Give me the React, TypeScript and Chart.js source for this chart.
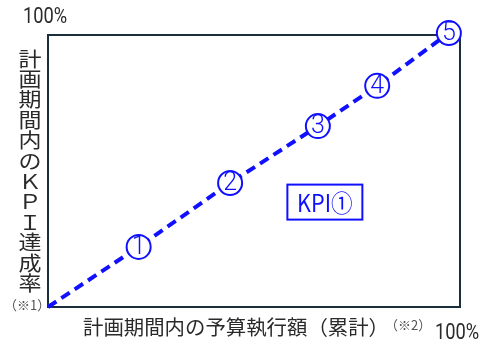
import React, { useEffect, useRef } from "react";
import { Chart, registerables } from "chart.js";

Chart.register(...registerables);

// Data
const pointLabels = ["", "1", "2", "3", "4", "5"];
const budgetExecution = [0, 22, 44.2, 65.5, 79.9, 97.3]; // x, % of budget executed (cumulative)
const kpiAchievement = [0, 22.1, 45.6, 66.5, 81.3, 100.7]; // y, % KPI achievement
const seriesName = "KPI①";
const yTitleChars = ["計", "画", "期", "間", "内", "の", "Ｋ", "Ｐ", "Ｉ", "達", "成", "率"];
const xTitle = "計画期間内の予算執行額（累計）";
const xNote = "（※2）";
const yNote = "（※1）";
const maxTickLabel = "100%";

const BLUE = "#1010ff";
const FRAME = "#1b2e3c";
const TEXT = "#2a2a2a";
const CJK = '"Noto Sans CJK JP", "Noto Sans", sans-serif';

const decorPlugin = {
  id: "decor",
  beforeDatasetsDraw(chart: any) {
    const { ctx, chartArea } = chart;
    const { left, top, right, bottom } = chartArea;
    ctx.save();
    ctx.strokeStyle = FRAME;
    ctx.lineWidth = 2;
    ctx.strokeRect(left, top, right - left, bottom - top);
    ctx.restore();
  },
  afterDatasetsDraw(chart: any) {
    const { ctx, chartArea } = chart;
    const { left, top, right, bottom } = chartArea;
    ctx.save();
    // numbers in circles
    const meta = chart.getDatasetMeta(0);
    ctx.fillStyle = BLUE;
    ctx.font = "300 25px Roboto, sans-serif";
    ctx.textAlign = "center";
    ctx.textBaseline = "middle";
    meta.data.forEach((el: any, i: number) => {
      if (!pointLabels[i]) return;
      ctx.fillText(pointLabels[i], el.x, el.y + 1);
    });

    // series label box
    const bx = left + (right - left) * 0.581;
    const by = top + (bottom - top) * 0.55;
    ctx.strokeStyle = BLUE;
    ctx.lineWidth = 2;
    ctx.strokeRect(bx, by, 75, 35);
    ctx.font = `24px ${CJK}`;
    ctx.fillStyle = BLUE;
    ctx.save();
    ctx.translate(bx + 37.5, by + 18);
    ctx.scale(0.9, 1);
    ctx.fillText(seriesName, 0, 0);
    ctx.restore();

    // 100% labels
    ctx.fillStyle = TEXT;
    ctx.textAlign = "left";
    ctx.textBaseline = "alphabetic";
    ctx.font = "22px Roboto, sans-serif";
    ctx.save();
    ctx.translate(left - 25, top - 12);
    ctx.scale(0.83, 1);
    ctx.fillText(maxTickLabel, 0, 0);
    ctx.restore();
    ctx.save();
    ctx.translate(right - 25, bottom + 32);
    ctx.scale(0.83, 1);
    ctx.fillText(maxTickLabel, 0, 0);
    ctx.restore();

    // x title
    ctx.textBaseline = "middle";
    ctx.font = `20px ${CJK}`;
    ctx.fillStyle = TEXT;
    ctx.save();
    ctx.translate(left + 35, bottom + 20);
    ctx.scale(1.02, 1);
    ctx.fillText(xTitle, 0, 0);
    ctx.restore();
    const w = ctx.measureText(xTitle).width * 1.02;
    ctx.font = `13px ${CJK}`;
    ctx.fillStyle = "#555";
    ctx.fillText(xNote, left + 35 + w - 4, bottom + 18);

    // y title (vertical)
    ctx.font = `20px ${CJK}`;
    ctx.fillStyle = TEXT;
    ctx.textAlign = "center";
    yTitleChars.forEach((c, i) => {
      ctx.save();
      ctx.translate(left - 18, top + 24 + i * 20.4);
      ctx.scale(1.15, 1);
      ctx.fillText(c, 0, 0);
      ctx.restore();
    });
    ctx.font = `13px ${CJK}`;
    ctx.fillStyle = "#555";
    ctx.textAlign = "left";
    ctx.fillText(yNote, left - 44, bottom - 2);
    ctx.restore();
  },
};

export default function App() {
  const ref = useRef<HTMLCanvasElement>(null);
  useEffect(() => {
    if (!ref.current) return;
    const chart = new Chart(ref.current, {
      type: "line",
      data: {
        datasets: [
          {
            label: seriesName,
            data: budgetExecution.map((x, i) => ({ x, y: kpiAchievement[i] })),
            borderColor: BLUE,
            borderWidth: 4,
            borderDash: [10, 6],
            pointRadius: (c: any) => (c.dataIndex === 0 ? 0 : 12),
            pointBorderWidth: 2,
            pointBorderColor: BLUE,
            pointBackgroundColor: "#ffffff",
            clip: false as any,
            tension: 0,
          },
        ],
      },
      options: {
        responsive: false,
        animation: false,
        devicePixelRatio: 1,
        layout: { padding: { left: 48, top: 35, right: 28, bottom: 37 } },
        scales: {
          x: { type: "linear", min: 0, max: 100, display: false },
          y: { type: "linear", min: 0, max: 100, display: false },
        },
        plugins: { legend: { display: false }, tooltip: { enabled: false } },
      },
      plugins: [decorPlugin],
    });
    return () => chart.destroy();
  }, []);
  return (
    <div style={{ position: "absolute", left: 0, top: 0, width: 488, height: 344, background: "#fff" }}>
      <canvas ref={ref} width={488} height={344} />
    </div>
  );
}
